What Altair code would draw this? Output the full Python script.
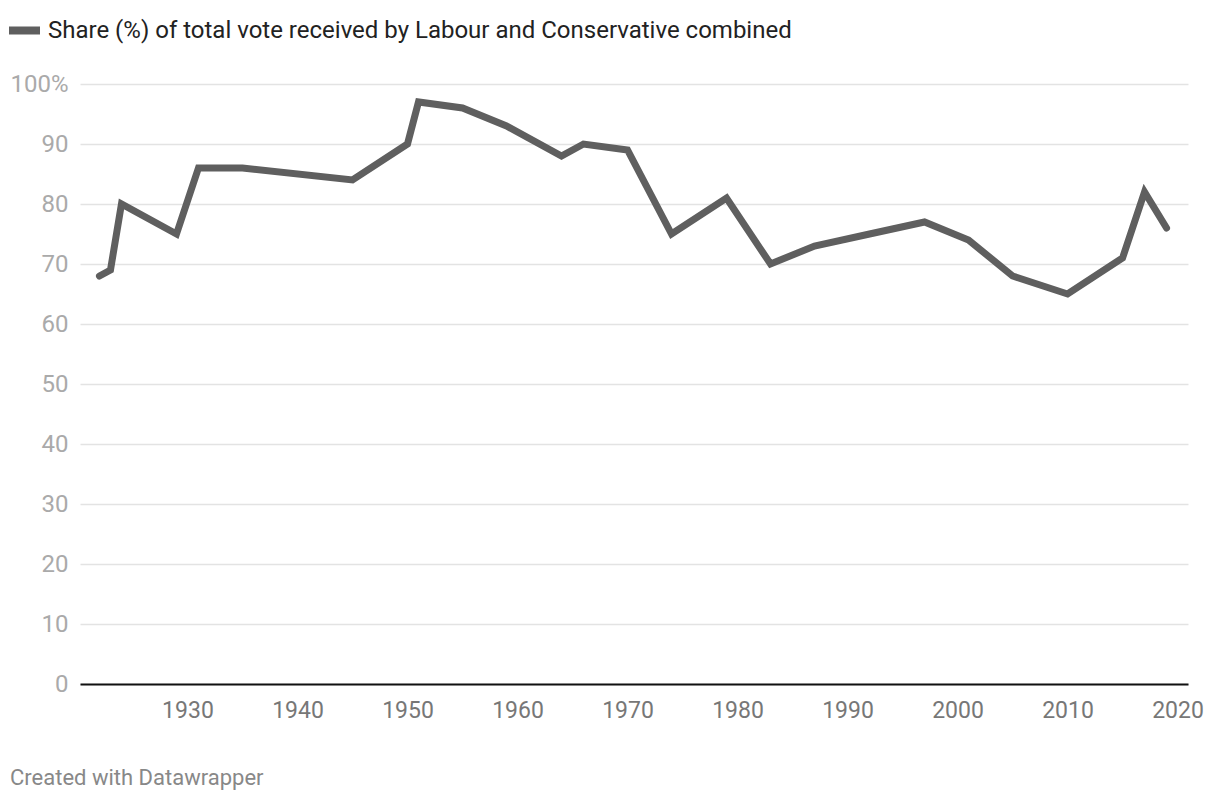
import altair as alt
import pandas as pd

years = [1922, 1923, 1924, 1929, 1931, 1935, 1945, 1950, 1951, 1955, 1959, 1964, 1966,
         1970, 1974, 1979, 1983, 1987, 1992, 1997, 2001, 2005, 2010, 2015, 2017, 2019]
share = [68, 69, 80, 75, 86, 86, 84, 90, 97, 96, 93, 88, 90,
         89, 75, 81, 70, 73, 75, 77, 74, 68, 65, 71, 82, 76]
series_name = "Share (%) of total vote received by Labour and Conservative combined"
y_ticks = [0, 10, 20, 30, 40, 50, 60, 70, 80, 90, 100]
x_ticks = [1930, 1940, 1950, 1960, 1970, 1980, 1990, 2000, 2010, 2020]

df = pd.DataFrame({"year": years, "share": share, "series": [series_name] * len(years)})

FONT = "Roboto"

chart = alt.Chart(df).mark_line(strokeWidth=7, strokeCap="round", strokeJoin="miter").encode(
    x=alt.X("year:Q",
            scale=alt.Scale(domain=[1920.23, 2020.95], nice=False, zero=False),
            axis=alt.Axis(values=x_ticks, format="d", title=None, grid=False, ticks=False,
                          domainColor="#111111", domainWidth=2,
                          labelFontSize=23, labelColor="#777777", labelFont=FONT,
                          labelPadding=15)),
    y=alt.Y("share:Q",
            scale=alt.Scale(domain=[0, 100], nice=False),
            axis=alt.Axis(values=y_ticks, title=None, grid=True, gridColor="#e3e3e3",
                          gridWidth=1.5, ticks=False, domain=False,
                          labelExpr="datum.value == 100 ? '100%' : datum.label",
                          labelFontSize=24, labelColor="#aaaaaa", labelFont=FONT,
                          labelPadding=12)),
    color=alt.Color("series:N",
                    scale=alt.Scale(range=["#5f5f5f"]),
                    legend=alt.Legend(title=None, orient="none", legendX=-75, legendY=-73,
                                      symbolType="stroke", symbolStrokeWidth=8,
                                      symbolSize=961, labelFontSize=24,
                                      labelColor="#222222", labelFont=FONT,
                                      labelLimit=0, padding=0, labelOffset=4)),
).properties(
    width=1108,
    height=600,
    padding={"left": 72, "top": 76, "right": 24, "bottom": 108},
    autosize=alt.AutoSizeParams(type="none"),
    title=alt.TitleParams(text="Created with Datawrapper", orient="bottom", anchor="start",
                          frame="group", dx=-70, offset=46, fontSize=22,
                          fontWeight="normal", color="#888888", font=FONT),
).configure_view(stroke=None)

chart.save("out.html", embed_options={"renderer": "svg", "actions": False})
